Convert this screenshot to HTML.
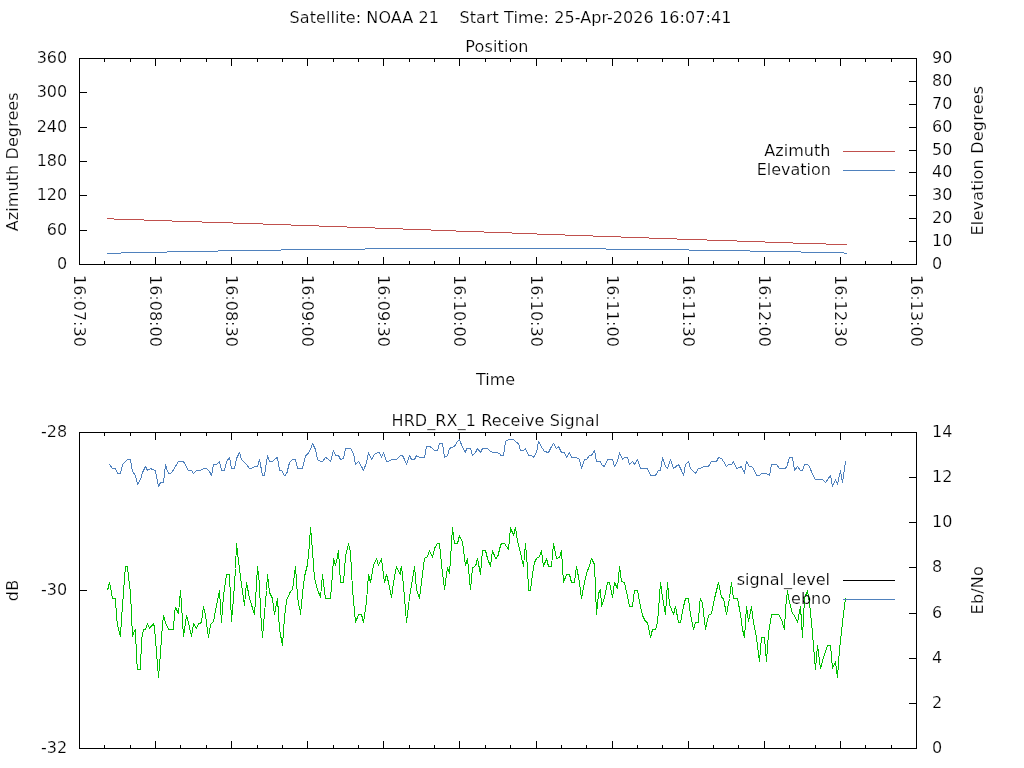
<!DOCTYPE html>
<html><head><meta charset="utf-8"><title>Satellite pass plot</title>
<style>
html,body{margin:0;padding:0;background:#fff;}
body{width:1024px;height:768px;overflow:hidden;}
svg{display:block;}
svg text{font-family:"DejaVu Sans","Liberation Sans",sans-serif;font-size:16px;fill:#000;stroke:#fff;stroke-width:0.2px;}
</style></head><body>
<svg width="1024" height="768" viewBox="0 0 1024 768">
<rect x="0" y="0" width="1024" height="768" fill="#fff"/>
<g shape-rendering="crispEdges">
<rect x="79" y="58" width="838" height="1" fill="#000"/>
<rect x="79" y="264" width="838" height="1" fill="#000"/>
<rect x="79" y="58" width="1" height="207" fill="#000"/>
<rect x="916" y="58" width="1" height="207" fill="#000"/>
<rect x="104" y="58" width="1" height="4" fill="#000"/>
<rect x="104" y="261" width="1" height="4" fill="#000"/>
<rect x="130" y="58" width="1" height="4" fill="#000"/>
<rect x="130" y="261" width="1" height="4" fill="#000"/>
<rect x="155" y="58" width="1" height="8" fill="#000"/>
<rect x="155" y="257" width="1" height="8" fill="#000"/>
<rect x="180" y="58" width="1" height="4" fill="#000"/>
<rect x="180" y="261" width="1" height="4" fill="#000"/>
<rect x="206" y="58" width="1" height="4" fill="#000"/>
<rect x="206" y="261" width="1" height="4" fill="#000"/>
<rect x="231" y="58" width="1" height="8" fill="#000"/>
<rect x="231" y="257" width="1" height="8" fill="#000"/>
<rect x="257" y="58" width="1" height="4" fill="#000"/>
<rect x="257" y="261" width="1" height="4" fill="#000"/>
<rect x="282" y="58" width="1" height="4" fill="#000"/>
<rect x="282" y="261" width="1" height="4" fill="#000"/>
<rect x="307" y="58" width="1" height="8" fill="#000"/>
<rect x="307" y="257" width="1" height="8" fill="#000"/>
<rect x="333" y="58" width="1" height="4" fill="#000"/>
<rect x="333" y="261" width="1" height="4" fill="#000"/>
<rect x="358" y="58" width="1" height="4" fill="#000"/>
<rect x="358" y="261" width="1" height="4" fill="#000"/>
<rect x="383" y="58" width="1" height="8" fill="#000"/>
<rect x="383" y="257" width="1" height="8" fill="#000"/>
<rect x="409" y="58" width="1" height="4" fill="#000"/>
<rect x="409" y="261" width="1" height="4" fill="#000"/>
<rect x="434" y="58" width="1" height="4" fill="#000"/>
<rect x="434" y="261" width="1" height="4" fill="#000"/>
<rect x="459" y="58" width="1" height="8" fill="#000"/>
<rect x="459" y="257" width="1" height="8" fill="#000"/>
<rect x="485" y="58" width="1" height="4" fill="#000"/>
<rect x="485" y="261" width="1" height="4" fill="#000"/>
<rect x="510" y="58" width="1" height="4" fill="#000"/>
<rect x="510" y="261" width="1" height="4" fill="#000"/>
<rect x="536" y="58" width="1" height="8" fill="#000"/>
<rect x="536" y="257" width="1" height="8" fill="#000"/>
<rect x="561" y="58" width="1" height="4" fill="#000"/>
<rect x="561" y="261" width="1" height="4" fill="#000"/>
<rect x="586" y="58" width="1" height="4" fill="#000"/>
<rect x="586" y="261" width="1" height="4" fill="#000"/>
<rect x="612" y="58" width="1" height="8" fill="#000"/>
<rect x="612" y="257" width="1" height="8" fill="#000"/>
<rect x="637" y="58" width="1" height="4" fill="#000"/>
<rect x="637" y="261" width="1" height="4" fill="#000"/>
<rect x="662" y="58" width="1" height="4" fill="#000"/>
<rect x="662" y="261" width="1" height="4" fill="#000"/>
<rect x="688" y="58" width="1" height="8" fill="#000"/>
<rect x="688" y="257" width="1" height="8" fill="#000"/>
<rect x="713" y="58" width="1" height="4" fill="#000"/>
<rect x="713" y="261" width="1" height="4" fill="#000"/>
<rect x="738" y="58" width="1" height="4" fill="#000"/>
<rect x="738" y="261" width="1" height="4" fill="#000"/>
<rect x="764" y="58" width="1" height="8" fill="#000"/>
<rect x="764" y="257" width="1" height="8" fill="#000"/>
<rect x="789" y="58" width="1" height="4" fill="#000"/>
<rect x="789" y="261" width="1" height="4" fill="#000"/>
<rect x="815" y="58" width="1" height="4" fill="#000"/>
<rect x="815" y="261" width="1" height="4" fill="#000"/>
<rect x="840" y="58" width="1" height="8" fill="#000"/>
<rect x="840" y="257" width="1" height="8" fill="#000"/>
<rect x="865" y="58" width="1" height="4" fill="#000"/>
<rect x="865" y="261" width="1" height="4" fill="#000"/>
<rect x="891" y="58" width="1" height="4" fill="#000"/>
<rect x="891" y="261" width="1" height="4" fill="#000"/>
<text x="67.2" y="269.0" text-anchor="end">0</text>
<rect x="79" y="230" width="8" height="1" fill="#000"/>
<text x="67.2" y="235.0" text-anchor="end">60</text>
<rect x="79" y="195" width="8" height="1" fill="#000"/>
<text x="67.2" y="200.0" text-anchor="end">120</text>
<rect x="79" y="161" width="8" height="1" fill="#000"/>
<text x="67.2" y="166.0" text-anchor="end">180</text>
<rect x="79" y="127" width="8" height="1" fill="#000"/>
<text x="67.2" y="132.0" text-anchor="end">240</text>
<rect x="79" y="92" width="8" height="1" fill="#000"/>
<text x="67.2" y="97.0" text-anchor="end">300</text>
<text x="67.2" y="63.0" text-anchor="end">360</text>
<text x="932" y="269.0" text-anchor="start">0</text>
<rect x="909" y="241" width="8" height="1" fill="#000"/>
<text x="932" y="246.0" text-anchor="start">10</text>
<rect x="909" y="218" width="8" height="1" fill="#000"/>
<text x="932" y="223.0" text-anchor="start">20</text>
<rect x="909" y="195" width="8" height="1" fill="#000"/>
<text x="932" y="200.0" text-anchor="start">30</text>
<rect x="909" y="172" width="8" height="1" fill="#000"/>
<text x="932" y="177.0" text-anchor="start">40</text>
<rect x="909" y="150" width="8" height="1" fill="#000"/>
<text x="932" y="155.0" text-anchor="start">50</text>
<rect x="909" y="127" width="8" height="1" fill="#000"/>
<text x="932" y="132.0" text-anchor="start">60</text>
<rect x="909" y="104" width="8" height="1" fill="#000"/>
<text x="932" y="109.0" text-anchor="start">70</text>
<rect x="909" y="81" width="8" height="1" fill="#000"/>
<text x="932" y="86.0" text-anchor="start">80</text>
<text x="932" y="63.0" text-anchor="start">90</text>
<text transform="translate(74.0,275) rotate(90)" text-anchor="start">16:07:30</text>
<text transform="translate(150.0,275) rotate(90)" text-anchor="start">16:08:00</text>
<text transform="translate(226.0,275) rotate(90)" text-anchor="start">16:08:30</text>
<text transform="translate(302.0,275) rotate(90)" text-anchor="start">16:09:00</text>
<text transform="translate(378.0,275) rotate(90)" text-anchor="start">16:09:30</text>
<text transform="translate(454.0,275) rotate(90)" text-anchor="start">16:10:00</text>
<text transform="translate(531.0,275) rotate(90)" text-anchor="start">16:10:30</text>
<text transform="translate(607.0,275) rotate(90)" text-anchor="start">16:11:00</text>
<text transform="translate(683.0,275) rotate(90)" text-anchor="start">16:11:30</text>
<text transform="translate(759.0,275) rotate(90)" text-anchor="start">16:12:00</text>
<text transform="translate(835.0,275) rotate(90)" text-anchor="start">16:12:30</text>
<text transform="translate(911.0,275) rotate(90)" text-anchor="start">16:13:00</text>
<text x="510.5" y="23" text-anchor="middle" xml:space="preserve" style="letter-spacing:0.07px;white-space:pre">Satellite: NOAA 21    Start Time: 25-Apr-2026 16:07:41</text>
<text x="497" y="52" text-anchor="middle" style="letter-spacing:0.12px">Position</text>
<text x="495.5" y="385" text-anchor="middle">Time</text>
<text transform="translate(17.8,161.8) rotate(-90)" text-anchor="middle" style="letter-spacing:0.1px">Azimuth Degrees</text>
<text transform="translate(983,160.6) rotate(-90)" text-anchor="middle" style="letter-spacing:0.22px">Elevation Degrees</text>
<text x="830.3" y="156" text-anchor="end">Azimuth</text>
<text x="831" y="175" text-anchor="end">Elevation</text>
<rect x="843" y="151" width="52" height="1" fill="#C0504D"/>
<rect x="843" y="170" width="52" height="1" fill="#4F81BD"/>
<rect x="107" y="218" width="7" height="1" fill="#C0504D"/>
<rect x="114" y="219" width="30" height="1" fill="#C0504D"/>
<rect x="144" y="220" width="28" height="1" fill="#C0504D"/>
<rect x="172" y="221" width="30" height="1" fill="#C0504D"/>
<rect x="202" y="222" width="31" height="1" fill="#C0504D"/>
<rect x="233" y="223" width="30" height="1" fill="#C0504D"/>
<rect x="263" y="224" width="28" height="1" fill="#C0504D"/>
<rect x="291" y="225" width="28" height="1" fill="#C0504D"/>
<rect x="319" y="226" width="28" height="1" fill="#C0504D"/>
<rect x="347" y="227" width="28" height="1" fill="#C0504D"/>
<rect x="375" y="228" width="28" height="1" fill="#C0504D"/>
<rect x="403" y="229" width="28" height="1" fill="#C0504D"/>
<rect x="431" y="230" width="25" height="1" fill="#C0504D"/>
<rect x="456" y="231" width="28" height="1" fill="#C0504D"/>
<rect x="484" y="232" width="28" height="1" fill="#C0504D"/>
<rect x="512" y="233" width="25" height="1" fill="#C0504D"/>
<rect x="537" y="234" width="28" height="1" fill="#C0504D"/>
<rect x="565" y="235" width="28" height="1" fill="#C0504D"/>
<rect x="593" y="236" width="28" height="1" fill="#C0504D"/>
<rect x="621" y="237" width="28" height="1" fill="#C0504D"/>
<rect x="649" y="238" width="28" height="1" fill="#C0504D"/>
<rect x="677" y="239" width="30" height="1" fill="#C0504D"/>
<rect x="707" y="240" width="30" height="1" fill="#C0504D"/>
<rect x="737" y="241" width="28" height="1" fill="#C0504D"/>
<rect x="765" y="242" width="28" height="1" fill="#C0504D"/>
<rect x="793" y="243" width="33" height="1" fill="#C0504D"/>
<rect x="826" y="244" width="21" height="1" fill="#C0504D"/>
<rect x="107" y="253" width="14" height="1" fill="#4F81BD"/>
<rect x="121" y="252" width="46" height="1" fill="#4F81BD"/>
<rect x="167" y="251" width="51" height="1" fill="#4F81BD"/>
<rect x="218" y="250" width="63" height="1" fill="#4F81BD"/>
<rect x="281" y="249" width="84" height="1" fill="#4F81BD"/>
<rect x="365" y="248" width="241" height="1" fill="#4F81BD"/>
<rect x="606" y="249" width="83" height="1" fill="#4F81BD"/>
<rect x="689" y="250" width="61" height="1" fill="#4F81BD"/>
<rect x="750" y="251" width="51" height="1" fill="#4F81BD"/>
<rect x="801" y="252" width="43" height="1" fill="#4F81BD"/>
<rect x="844" y="253" width="3" height="1" fill="#4F81BD"/>
<rect x="79" y="432" width="838" height="1" fill="#000"/>
<rect x="79" y="748" width="838" height="1" fill="#000"/>
<rect x="79" y="432" width="1" height="317" fill="#000"/>
<rect x="916" y="432" width="1" height="317" fill="#000"/>
<rect x="104" y="432" width="1" height="4" fill="#000"/>
<rect x="104" y="745" width="1" height="4" fill="#000"/>
<rect x="130" y="432" width="1" height="4" fill="#000"/>
<rect x="130" y="745" width="1" height="4" fill="#000"/>
<rect x="155" y="432" width="1" height="8" fill="#000"/>
<rect x="155" y="741" width="1" height="8" fill="#000"/>
<rect x="180" y="432" width="1" height="4" fill="#000"/>
<rect x="180" y="745" width="1" height="4" fill="#000"/>
<rect x="206" y="432" width="1" height="4" fill="#000"/>
<rect x="206" y="745" width="1" height="4" fill="#000"/>
<rect x="231" y="432" width="1" height="8" fill="#000"/>
<rect x="231" y="741" width="1" height="8" fill="#000"/>
<rect x="257" y="432" width="1" height="4" fill="#000"/>
<rect x="257" y="745" width="1" height="4" fill="#000"/>
<rect x="282" y="432" width="1" height="4" fill="#000"/>
<rect x="282" y="745" width="1" height="4" fill="#000"/>
<rect x="307" y="432" width="1" height="8" fill="#000"/>
<rect x="307" y="741" width="1" height="8" fill="#000"/>
<rect x="333" y="432" width="1" height="4" fill="#000"/>
<rect x="333" y="745" width="1" height="4" fill="#000"/>
<rect x="358" y="432" width="1" height="4" fill="#000"/>
<rect x="358" y="745" width="1" height="4" fill="#000"/>
<rect x="383" y="432" width="1" height="8" fill="#000"/>
<rect x="383" y="741" width="1" height="8" fill="#000"/>
<rect x="409" y="432" width="1" height="4" fill="#000"/>
<rect x="409" y="745" width="1" height="4" fill="#000"/>
<rect x="434" y="432" width="1" height="4" fill="#000"/>
<rect x="434" y="745" width="1" height="4" fill="#000"/>
<rect x="459" y="432" width="1" height="8" fill="#000"/>
<rect x="459" y="741" width="1" height="8" fill="#000"/>
<rect x="485" y="432" width="1" height="4" fill="#000"/>
<rect x="485" y="745" width="1" height="4" fill="#000"/>
<rect x="510" y="432" width="1" height="4" fill="#000"/>
<rect x="510" y="745" width="1" height="4" fill="#000"/>
<rect x="536" y="432" width="1" height="8" fill="#000"/>
<rect x="536" y="741" width="1" height="8" fill="#000"/>
<rect x="561" y="432" width="1" height="4" fill="#000"/>
<rect x="561" y="745" width="1" height="4" fill="#000"/>
<rect x="586" y="432" width="1" height="4" fill="#000"/>
<rect x="586" y="745" width="1" height="4" fill="#000"/>
<rect x="612" y="432" width="1" height="8" fill="#000"/>
<rect x="612" y="741" width="1" height="8" fill="#000"/>
<rect x="637" y="432" width="1" height="4" fill="#000"/>
<rect x="637" y="745" width="1" height="4" fill="#000"/>
<rect x="662" y="432" width="1" height="4" fill="#000"/>
<rect x="662" y="745" width="1" height="4" fill="#000"/>
<rect x="688" y="432" width="1" height="8" fill="#000"/>
<rect x="688" y="741" width="1" height="8" fill="#000"/>
<rect x="713" y="432" width="1" height="4" fill="#000"/>
<rect x="713" y="745" width="1" height="4" fill="#000"/>
<rect x="738" y="432" width="1" height="4" fill="#000"/>
<rect x="738" y="745" width="1" height="4" fill="#000"/>
<rect x="764" y="432" width="1" height="8" fill="#000"/>
<rect x="764" y="741" width="1" height="8" fill="#000"/>
<rect x="789" y="432" width="1" height="4" fill="#000"/>
<rect x="789" y="745" width="1" height="4" fill="#000"/>
<rect x="815" y="432" width="1" height="4" fill="#000"/>
<rect x="815" y="745" width="1" height="4" fill="#000"/>
<rect x="840" y="432" width="1" height="8" fill="#000"/>
<rect x="840" y="741" width="1" height="8" fill="#000"/>
<rect x="865" y="432" width="1" height="4" fill="#000"/>
<rect x="865" y="745" width="1" height="4" fill="#000"/>
<rect x="891" y="432" width="1" height="4" fill="#000"/>
<rect x="891" y="745" width="1" height="4" fill="#000"/>
<text x="67.2" y="753.0" text-anchor="end">-32</text>
<rect x="79" y="590" width="8" height="1" fill="#000"/>
<text x="67.2" y="595.0" text-anchor="end">-30</text>
<text x="67.2" y="437.0" text-anchor="end">-28</text>
<text x="932" y="753.0" text-anchor="start">0</text>
<rect x="909" y="703" width="8" height="1" fill="#000"/>
<text x="932" y="708.0" text-anchor="start">2</text>
<rect x="909" y="658" width="8" height="1" fill="#000"/>
<text x="932" y="663.0" text-anchor="start">4</text>
<rect x="909" y="613" width="8" height="1" fill="#000"/>
<text x="932" y="618.0" text-anchor="start">6</text>
<rect x="909" y="567" width="8" height="1" fill="#000"/>
<text x="932" y="572.0" text-anchor="start">8</text>
<rect x="909" y="522" width="8" height="1" fill="#000"/>
<text x="932" y="527.0" text-anchor="start">10</text>
<rect x="909" y="477" width="8" height="1" fill="#000"/>
<text x="932" y="482.0" text-anchor="start">12</text>
<text x="932" y="437.0" text-anchor="start">14</text>
<text x="495.5" y="425.7" text-anchor="middle" style="letter-spacing:0.1px">HRD_RX_1 Receive Signal</text>
<text transform="translate(17.8,590.3) rotate(-90)" text-anchor="middle" style="letter-spacing:0.5px">dB</text>
<text transform="translate(983,590.2) rotate(-90)" text-anchor="middle" style="letter-spacing:0.2px">Eb/No</text>
<polyline points="107.5,590.5 109.5,582.5 111.5,592.5 112.5,598.5 115.5,598.5 116.5,617.5 118.5,629.5 120.5,636.5 121.5,618.5 123.5,592.5 124.5,577.5 125.5,566.5 127.5,566.5 128.5,577.5 130.5,592.5 131.5,614.5 132.5,636.5 133.5,632.5 135.5,629.5 136.5,657.5 137.5,669.5 140.5,669.5 141.5,639.5 143.5,629.5 145.5,629.5 147.5,623.5 149.5,628.5 153.5,623.5 154.5,627.5 156.5,652.5 158.5,677.5 160.5,652.5 162.5,624.5 163.5,615.5 165.5,622.5 168.5,629.5 173.5,629.5 174.5,613.5 175.5,607.5 178.5,613.5 180.5,590.5 181.5,604.5 183.5,636.5 185.5,622.5 186.5,615.5 188.5,622.5 191.5,636.5 193.5,623.5 196.5,628.5 198.5,623.5 200.5,623.5 200.5,622.5 201.5,622.5 203.5,606.5 205.5,615.5 208.5,637.5 210.5,624.5 213.5,621.5 216.5,605.5 219.5,590.5 221.5,622.5 223.5,595.5 226.5,574.5 229.5,574.5 231.5,621.5 233.5,598.5 235.5,568.5 236.5,543.5 238.5,561.5 241.5,584.5 244.5,605.5 246.5,582.5 249.5,598.5 254.5,614.5 256.5,584.5 257.5,566.5 259.5,584.5 260.5,611.5 262.5,637.5 264.5,613.5 266.5,590.5 267.5,574.5 269.5,592.5 272.5,598.5 274.5,614.5 277.5,598.5 279.5,629.5 282.5,645.5 284.5,617.5 286.5,600.5 290.5,591.5 292.5,589.5 295.5,566.5 297.5,596.5 299.5,608.5 300.5,610.5 300.5,614.5 302.5,593.5 304.5,576.5 307.5,564.5 309.5,543.5 310.5,527.5 312.5,550.5 314.5,578.5 317.5,589.5 320.5,597.5 322.5,574.5 325.5,598.5 330.5,598.5 332.5,574.5 333.5,558.5 335.5,565.5 337.5,556.5 338.5,550.5 340.5,582.5 343.5,582.5 345.5,556.5 348.5,543.5 350.5,552.5 352.5,589.5 355.5,622.5 358.5,614.5 361.5,614.5 363.5,622.5 366.5,601.5 368.5,574.5 370.5,582.5 373.5,565.5 376.5,558.5 378.5,565.5 381.5,558.5 384.5,582.5 386.5,574.5 388.5,582.5 391.5,597.5 393.5,582.5 396.5,566.5 398.5,571.5 400.5,574.5 400.5,570.5 401.5,566.5 403.5,585.5 406.5,622.5 409.5,597.5 411.5,585.5 414.5,566.5 416.5,589.5 419.5,598.5 421.5,582.5 424.5,558.5 427.5,556.5 429.5,550.5 432.5,557.5 434.5,548.5 437.5,543.5 439.5,543.5 441.5,564.5 444.5,589.5 447.5,567.5 449.5,573.5 451.5,543.5 452.5,527.5 454.5,543.5 457.5,543.5 459.5,535.5 462.5,542.5 465.5,565.5 467.5,558.5 470.5,589.5 472.5,567.5 475.5,566.5 477.5,558.5 480.5,574.5 482.5,550.5 485.5,550.5 487.5,558.5 490.5,566.5 492.5,550.5 495.5,558.5 497.5,557.5 500.5,545.5 501.5,543.5 504.5,543.5 508.5,549.5 510.5,527.5 513.5,535.5 515.5,527.5 517.5,541.5 520.5,552.5 523.5,566.5 525.5,543.5 527.5,567.5 528.5,590.5 530.5,590.5 532.5,574.5 534.5,562.5 536.5,558.5 539.5,556.5 541.5,550.5 543.5,566.5 546.5,558.5 548.5,566.5 551.5,566.5 553.5,543.5 556.5,558.5 559.5,557.5 561.5,550.5 563.5,582.5 566.5,574.5 569.5,574.5 571.5,582.5 574.5,582.5 576.5,566.5 579.5,582.5 581.5,598.5 584.5,582.5 586.5,573.5 589.5,565.5 591.5,558.5 594.5,564.5 595.5,589.5 596.5,614.5 598.5,593.5 600.5,589.5 601.5,606.5 604.5,597.5 607.5,582.5 609.5,582.5 612.5,597.5 614.5,582.5 617.5,588.5 619.5,566.5 621.5,581.5 624.5,582.5 627.5,596.5 629.5,606.5 632.5,606.5 634.5,590.5 637.5,590.5 639.5,601.5 642.5,615.5 645.5,621.5 647.5,622.5 650.5,637.5 652.5,629.5 655.5,629.5 657.5,622.5 659.5,596.5 660.5,582.5 662.5,597.5 665.5,614.5 667.5,582.5 669.5,604.5 673.5,614.5 675.5,606.5 678.5,622.5 680.5,622.5 683.5,606.5 685.5,598.5 688.5,598.5 690.5,614.5 693.5,629.5 695.5,622.5 698.5,622.5 699.5,604.5 700.5,598.5 702.5,603.5 705.5,629.5 708.5,615.5 711.5,613.5 714.5,598.5 718.5,582.5 721.5,597.5 723.5,598.5 726.5,614.5 729.5,598.5 731.5,582.5 733.5,598.5 737.5,598.5 740.5,614.5 742.5,629.5 744.5,637.5 746.5,606.5 748.5,621.5 751.5,606.5 753.5,622.5 756.5,637.5 759.5,661.5 761.5,637.5 764.5,637.5 766.5,661.5 768.5,633.5 771.5,614.5 778.5,614.5 781.5,619.5 784.5,629.5 785.5,608.5 787.5,590.5 789.5,602.5 792.5,613.5 794.5,615.5 797.5,622.5 800.5,606.5 802.5,637.5 804.5,598.5 807.5,590.5 809.5,602.5 811.5,622.5 813.5,645.5 815.5,669.5 817.5,645.5 820.5,668.5 823.5,657.5 827.5,645.5 830.5,645.5 832.5,668.5 835.5,661.5 837.5,677.5 839.5,649.5 842.5,622.5 844.5,606.5 845.5,598.5" fill="none" stroke="#00C000" stroke-width="1" stroke-linejoin="round" shape-rendering="crispEdges"/>
<polyline points="109.5,464.5 112.5,468.5 115.5,468.5 117.5,473.5 120.5,473.5 122.5,464.5 127.5,459.5 130.5,459.5 132.5,471.5 135.5,475.5 137.5,484.5 140.5,479.5 142.5,472.5 145.5,466.5 147.5,470.5 150.5,468.5 152.5,469.5 155.5,470.5 156.5,476.5 158.5,486.5 160.5,482.5 163.5,482.5 165.5,464.5 166.5,468.5 168.5,473.5 170.5,473.5 172.5,471.5 178.5,461.5 183.5,461.5 188.5,470.5 191.5,470.5 193.5,473.5 196.5,470.5 200.5,470.5 203.5,468.5 206.5,468.5 209.5,471.5 211.5,475.5 213.5,464.5 216.5,464.5 219.5,461.5 221.5,470.5 224.5,470.5 226.5,461.5 229.5,457.5 231.5,468.5 234.5,468.5 236.5,458.5 239.5,452.5 241.5,459.5 243.5,461.5 246.5,464.5 249.5,468.5 251.5,468.5 254.5,466.5 257.5,466.5 259.5,459.5 262.5,475.5 264.5,475.5 267.5,455.5 269.5,461.5 272.5,461.5 275.5,458.5 277.5,457.5 279.5,470.5 281.5,470.5 284.5,475.5 286.5,474.5 289.5,462.5 292.5,459.5 295.5,459.5 297.5,468.5 300.5,468.5 302.5,468.5 305.5,455.5 307.5,454.5 310.5,449.5 312.5,443.5 315.5,449.5 317.5,459.5 320.5,461.5 322.5,461.5 325.5,457.5 327.5,458.5 330.5,461.5 333.5,450.5 335.5,455.5 338.5,455.5 340.5,459.5 343.5,458.5 345.5,448.5 350.5,448.5 353.5,453.5 355.5,464.5 358.5,461.5 361.5,466.5 363.5,470.5 366.5,462.5 368.5,452.5 371.5,459.5 374.5,454.5 377.5,452.5 379.5,452.5 381.5,457.5 383.5,452.5 386.5,461.5 388.5,461.5 391.5,459.5 396.5,459.5 400.5,455.5 402.5,455.5 404.5,459.5 406.5,464.5 409.5,455.5 411.5,459.5 414.5,459.5 416.5,455.5 419.5,457.5 424.5,457.5 426.5,446.5 429.5,446.5 431.5,447.5 434.5,450.5 437.5,450.5 439.5,443.5 442.5,443.5 444.5,457.5 447.5,455.5 449.5,448.5 451.5,447.5 454.5,446.5 457.5,441.5 459.5,439.5 462.5,447.5 465.5,452.5 466.5,448.5 470.5,448.5 472.5,455.5 475.5,452.5 477.5,448.5 480.5,452.5 482.5,448.5 487.5,448.5 489.5,450.5 492.5,452.5 497.5,452.5 500.5,454.5 500.5,455.5 503.5,455.5 505.5,441.5 508.5,439.5 513.5,439.5 516.5,442.5 518.5,443.5 520.5,450.5 523.5,450.5 525.5,448.5 528.5,455.5 531.5,455.5 533.5,457.5 536.5,452.5 538.5,441.5 542.5,448.5 544.5,451.5 548.5,452.5 550.5,448.5 553.5,443.5 556.5,448.5 558.5,446.5 561.5,452.5 564.5,452.5 566.5,457.5 569.5,452.5 571.5,457.5 576.5,457.5 579.5,459.5 581.5,468.5 584.5,459.5 586.5,459.5 589.5,455.5 591.5,455.5 594.5,450.5 596.5,461.5 600.5,461.5 600.5,462.5 602.5,465.5 604.5,466.5 607.5,459.5 612.5,459.5 614.5,466.5 617.5,461.5 619.5,452.5 622.5,459.5 624.5,457.5 627.5,457.5 629.5,464.5 632.5,461.5 634.5,464.5 637.5,459.5 640.5,468.5 647.5,468.5 650.5,475.5 655.5,475.5 658.5,470.5 660.5,470.5 662.5,457.5 665.5,466.5 667.5,468.5 670.5,459.5 673.5,468.5 678.5,464.5 681.5,470.5 683.5,475.5 685.5,464.5 688.5,461.5 690.5,468.5 692.5,470.5 695.5,473.5 698.5,468.5 700.5,468.5 703.5,466.5 708.5,466.5 711.5,461.5 716.5,461.5 718.5,457.5 721.5,458.5 723.5,461.5 726.5,466.5 728.5,464.5 731.5,464.5 733.5,461.5 736.5,468.5 739.5,467.5 741.5,466.5 744.5,473.5 746.5,461.5 749.5,466.5 751.5,466.5 753.5,468.5 756.5,475.5 759.5,475.5 761.5,473.5 766.5,473.5 769.5,475.5 771.5,464.5 776.5,464.5 779.5,468.5 784.5,468.5 786.5,467.5 789.5,457.5 792.5,457.5 794.5,470.5 797.5,466.5 800.5,470.5 802.5,470.5 804.5,464.5 807.5,464.5 809.5,466.5 812.5,474.5 815.5,479.5 822.5,479.5 825.5,482.5 830.5,475.5 832.5,486.5 835.5,479.5 837.5,484.5 840.5,470.5 842.5,482.5 845.5,461.5" fill="none" stroke="#4F81BD" stroke-width="1" stroke-linejoin="round" shape-rendering="crispEdges"/>
<text x="830" y="585" text-anchor="end">signal_level</text>
<text x="831" y="604" text-anchor="end" style="mix-blend-mode:multiply">ebno</text>
<rect x="843" y="580" width="52" height="1" fill="#000"/>
<rect x="843" y="599" width="52" height="1" fill="#4F81BD"/>
</g>
</svg>
</body></html>
